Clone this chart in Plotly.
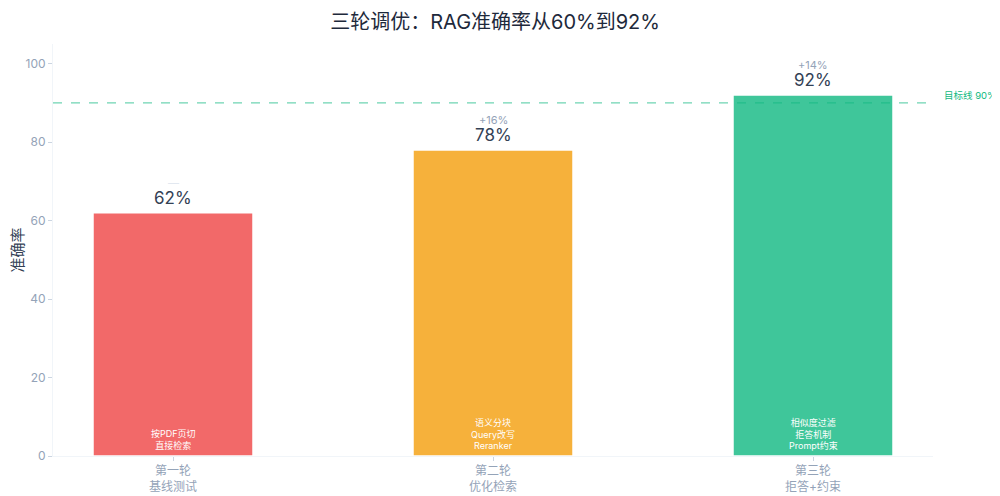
import plotly.graph_objects as go

rounds = ['第一轮<br>基线测试', '第二轮<br>优化检索', '第三轮<br>拒答+约束']
accuracy = [62, 78, 92]
deltas = ['—', '+16%', '+14%']
methods = ['按PDF页切<br>直接检索', '语义分块<br>Query改写<br>Reranker', '相似度过滤<br>拒答机制<br>Prompt约束']
colors = ['#EF4444', '#F59E0B', '#10B981']
target = 90

font_family = 'Inter, Noto Sans CJK SC, sans-serif'

fig = go.Figure()
fig.add_trace(go.Bar(
    x=rounds, y=accuracy, width=0.5,
    marker=dict(color=colors, opacity=0.8, line=dict(color='white', width=1.5)),
    hoverinfo='skip', showlegend=False,
))

# value labels + deltas + method notes
for i, (r, v) in enumerate(zip(rounds, accuracy)):
    fig.add_annotation(x=r, y=v, text=f'{v}%', showarrow=False, yanchor='bottom', yshift=3,
                       font=dict(size=17, color='#334155'))
    fig.add_annotation(x=r, y=v, text=deltas[i], showarrow=False, yanchor='bottom', yshift=21,
                       font=dict(size=11, color='#e2e8f0' if deltas[i] == '—' else '#94a3b8'))
    fig.add_annotation(x=r, y=0, text=methods[i], showarrow=False, yanchor='bottom', yshift=3,
                       font=dict(size=9, color='white'))

fig.add_hline(y=target, line=dict(color='#10B981', dash='dash', width=1.2), opacity=0.6)
fig.add_annotation(xref='paper', x=1.01, y=target, text=f'目标线 {target}%', showarrow=False,
                   xanchor='left', yanchor='bottom', yshift=0, font=dict(size=9.5, color='#10B981'))

fig.update_layout(
    width=992, height=488,
    margin=dict(l=45, r=67, t=36, b=40, autoexpand=False),
    paper_bgcolor='white', plot_bgcolor='white',
    font=dict(family=font_family),
    title=dict(text='三轮调优：RAG准确率从60%到92%', x=0.491, xanchor='center',
               y=0.972, yanchor='middle', font=dict(size=20, color='#1e293b')),
    bargap=0.5,
)
fig.update_xaxes(range=[-0.375, 2.375], showline=True, linecolor='#f1f5f9', linewidth=1,
                 ticks='outside', tickcolor='#cbd5e1', ticklen=4, automargin=False,
                 tickfont=dict(size=12, color='#94a3b8'), showgrid=False)
fig.update_yaxes(range=[0, 105], showline=True, linecolor='#f1f5f9', linewidth=1,
                 ticks='outside', tickcolor='#cbd5e1', ticklen=4, tickvals=[0, 20, 40, 60, 80, 100],
                 tickfont=dict(size=12, color='#94a3b8'), showgrid=False, zeroline=False,
                 automargin=False,
                 title=dict(text='准确率', font=dict(size=15, color='#334155'), standoff=8))

fig.write_html('out.html')
